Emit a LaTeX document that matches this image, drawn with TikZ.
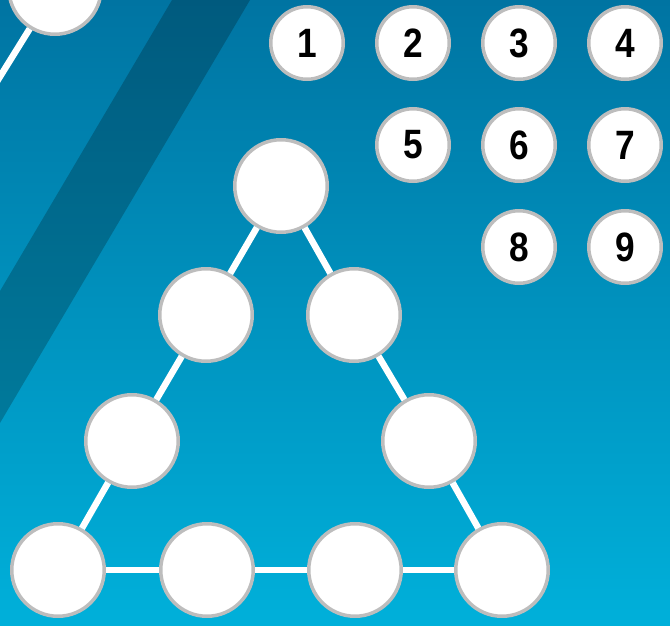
\documentclass[tikz,border=0pt]{standalone}
\usepackage{fontspec}
\setmainfont{Liberation Sans}
\newcommand{\dig}[1]{\scalebox{0.86}[1]{\fontsize{41}{41}\selectfont\bfseries #1}}
\begin{document}
\begin{tikzpicture}[x=1pt,y=1pt,
  bigc/.style={circle,draw=ringgrey,line width=3.5pt,fill=white,minimum size=92.5pt,inner sep=0pt},
  smallc/.style={circle,draw=ringgrey,line width=3.5pt,fill=white,minimum size=72.5pt,inner sep=0pt},
  link/.style={draw=white,line width=6.5pt}]
\definecolor{ringgrey}{HTML}{BDBDBD}
\definecolor{bgtop}{HTML}{0074A2}
\definecolor{bgbot}{HTML}{00B0DA}
\useasboundingbox (0,0) rectangle (670,-625);
\clip (0,0) rectangle (670,-625);
\shade[top color=bgtop,bottom color=bgbot] (0,0) rectangle (670,-625);
\fill[black,opacity=0.22] (172,0) -- (250,0) -- (0,-423) -- (0,-291) -- cycle;
% partial circle
\node[bigc] (p) at (55,12) {};
\coordinate (pe) at (-30,-125);
\draw[link] (p) -- (pe);
% triangle
\node[bigc] (t1) at (281,-186) {};
\node[bigc] (l2) at (206,-315) {};
\node[bigc] (r2) at (354,-315) {};
\node[bigc] (l3) at (132,-441) {};
\node[bigc] (r3) at (429,-441) {};
\node[bigc] (b1) at (58,-570) {};
\node[bigc] (b2) at (207,-570) {};
\node[bigc] (b3) at (355,-570) {};
\node[bigc] (b4) at (502,-570) {};
\draw[link] (t1) -- (l2);
\draw[link] (t1) -- (r2);
\draw[link] (l2) -- (l3);
\draw[link] (r2) -- (r3);
\draw[link] (l3) -- (b1);
\draw[link] (r3) -- (b4);
\draw[link] (b1) -- (b2);
\draw[link] (b2) -- (b3);
\draw[link] (b3) -- (b4);
% numbers
\node[smallc] (n1) at (307,-43) {\dig{1}};
\node[smallc] (n2) at (413,-43) {\dig{2}};
\node[smallc] (n3) at (519,-43) {\dig{3}};
\node[smallc] (n4) at (625,-43) {\dig{4}};
\node[smallc] (n5) at (413,-145) {\dig{5}};
\node[smallc] (n6) at (519,-145) {\dig{6}};
\node[smallc] (n7) at (625,-145) {\dig{7}};
\node[smallc] (n8) at (519,-247) {\dig{8}};
\node[smallc] (n9) at (625,-247) {\dig{9}};
\end{tikzpicture}
\end{document}
